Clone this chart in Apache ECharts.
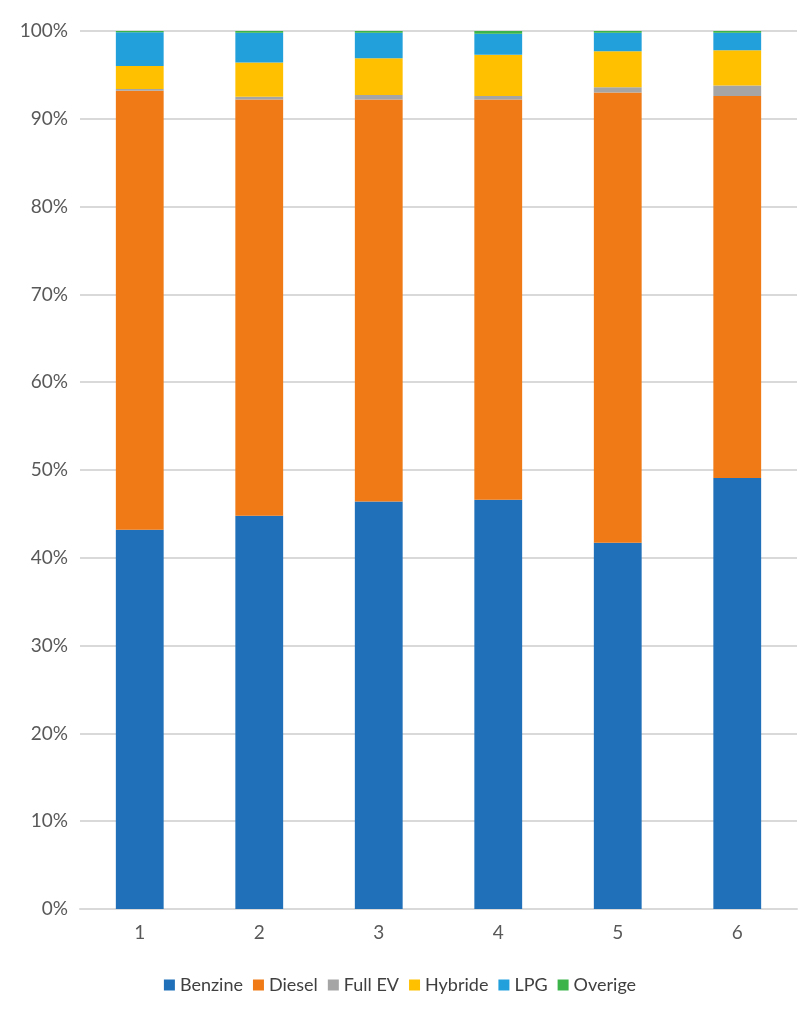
<!DOCTYPE html><html><head><meta charset="utf-8"><script src="https://cdn.jsdelivr.net/npm/echarts@6/dist/echarts.min.js"></script></head><body style="margin:0"><div id="c" style="width:800px;height:1025px"></div><script>
const categories=['1','2','3','4','5','6'];
const benzine=[43.2,44.8,46.4,46.6,41.7,49.1];
const diesel=[50.0,47.4,45.8,45.6,51.3,43.5];
const fullEV=[0.2,0.3,0.5,0.4,0.6,1.2];
const hybride=[2.6,3.9,4.2,4.7,4.1,4.0];
const lpg=[3.85,3.4,2.9,2.4,2.1,2.0];
const overige=[0.15,0.2,0.2,0.3,0.2,0.2];
const names=['Benzine','Diesel','Full EV','Hybride','LPG','Overige'];
const colors=['#1F70B8','#EF7A16','#A5A5A5','#FFC000','#22A0DC','#3CB44A'];
const data=[benzine,diesel,fullEV,hybride,lpg,overige];
const ch=echarts.init(document.getElementById('c'));
ch.setOption({
 color:colors,
 textStyle:{fontFamily:'Lato'},
 grid:{left:80,right:3,top:31,bottom:116},
 legend:{bottom:26,itemWidth:11,itemHeight:11,icon:'rect',itemGap:10,textStyle:{fontSize:18,color:'#404040'}},
 xAxis:{type:'category',data:categories,axisTick:{show:false},axisLine:{lineStyle:{color:'#d9d9d9',width:2}},axisLabel:{fontSize:19,color:'#595959',margin:14}},
 yAxis:{type:'value',min:0,max:100,interval:10,axisLabel:{formatter:'{value}%',fontSize:19,color:'#595959',margin:12},splitLine:{lineStyle:{color:'#d9d9d9',width:2}}},
 series:names.map((n,i)=>({name:n,type:'bar',stack:'a',barWidth:'40%',data:data[i]}))
});
</script></body></html>
